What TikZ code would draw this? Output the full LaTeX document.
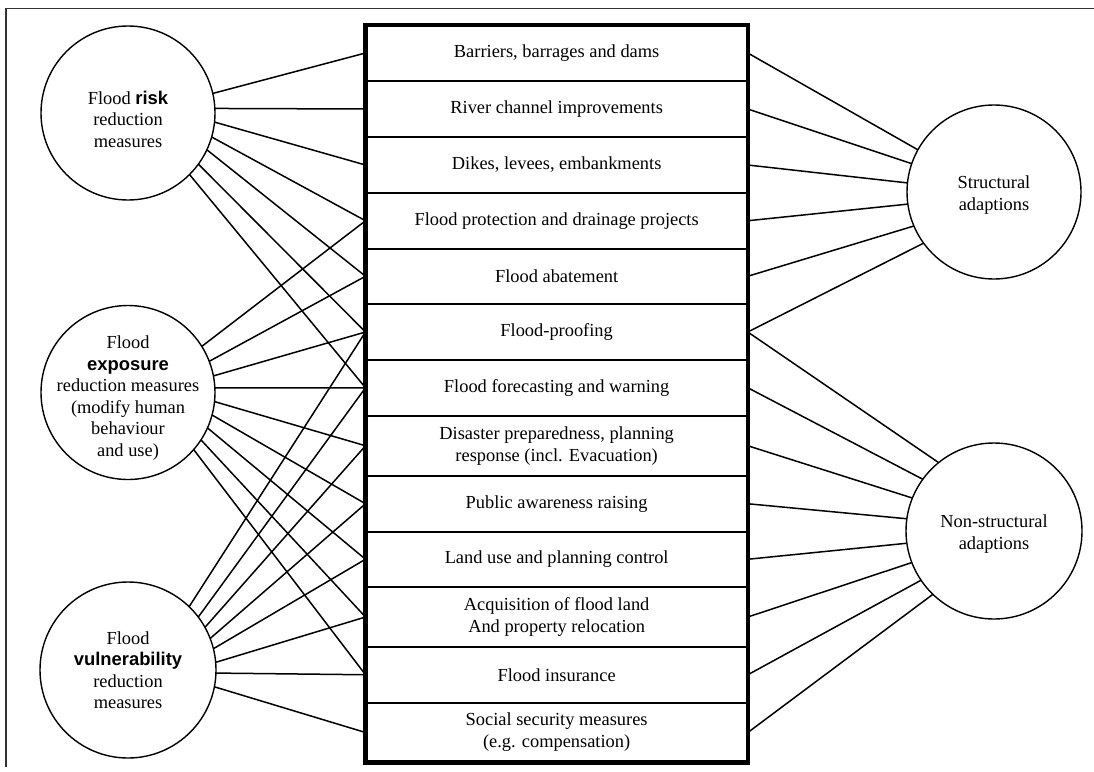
\documentclass[tikz,border=0pt]{standalone}
\usepackage{fontspec}
\setmainfont{Liberation Serif}
\setsansfont{Liberation Sans}
\begin{document}
\begin{tikzpicture}[x=1pt,y=-1pt,
  bubble/.style={circle, draw, line width=1.4pt, minimum size=174pt, inner sep=0pt, outer sep=0pt},
  ctext/.style={align=center, font=\fontsize{18.4}{21.5}\selectfont, inner sep=0pt},
  rowbox/.style={rectangle, draw, line width=2pt, minimum width=382.3pt, inner sep=0pt, outer sep=0pt, align=center, font=\fontsize{18.4}{22}\selectfont},
  link/.style={line width=1.5pt}]
\path[use as bounding box, fill=white] (0,0) rectangle (1094,771);
\draw[line width=1.2pt, black!80] (6,767) -- (6,8.5) -- (1094,8.5);

% circles
\node[bubble] (risk) at (128,113) {};
\node[bubble] (expo) at (128,392.5) {};
\node[bubble, minimum size=176pt] (vuln) at (128,670) {};
\node[bubble] (struct) at (994,192) {};
\node[bubble, minimum size=176pt] (nonstruct) at (994,531) {};

\node[ctext] (risktxt) at (128,119) {Flood \textsf{\bfseries risk}\\reduction\\measures};
\node[ctext] (expotxt) at (128,398) {Flood\\\textsf{\bfseries exposure}\\reduction measures\\(modify human\\behaviour\\and use)};
\node[ctext] (vulntxt) at (128,670) {Flood\\\textsf{\bfseries vulnerability}\\reduction\\measures};
\node[ctext] (structtxt) at (994,195) {Structural\\adaptions};
\node[ctext] (nonstructtxt) at (994,534) {Non-structural\\adaptions};

% rows
\node[rowbox, minimum height=56pt]   (r1)  at (556.65,53)     {Barriers, barrages and dams};
\node[rowbox, minimum height=56pt]   (r2)  at (556.65,109)    {River channel improvements};
\node[rowbox, minimum height=56pt]   (r3)  at (556.65,165)    {Dikes, levees, embankments};
\node[rowbox, minimum height=55.5pt] (r4)  at (556.65,220.75) {Flood protection and drainage projects};
\node[rowbox, minimum height=55.5pt] (r5)  at (556.65,276.25) {Flood abatement};
\node[rowbox, minimum height=56pt]   (r6)  at (556.65,332)    {Flood-proofing};
\node[rowbox, minimum height=55.5pt] (r7)  at (556.65,387.75) {Flood forecasting and warning};
\node[rowbox, minimum height=60.5pt] (r8)  at (556.65,445.75) {Disaster preparedness, planning\\response (incl. Evacuation)};
\node[rowbox, minimum height=55.5pt] (r9)  at (556.65,503.75) {Public awareness raising};
\node[rowbox, minimum height=55.5pt] (r10) at (556.65,559.25) {Land use and planning control};
\node[rowbox, minimum height=60pt]   (r11) at (556.65,617)    {Acquisition of flood land\\And property relocation};
\node[rowbox, minimum height=55.5pt] (r12) at (556.65,674.75) {Flood insurance};
\node[rowbox, minimum height=60pt]   (r13) at (556.65,732.5)  {Social security measures\\(e.g. compensation)};
\draw[line width=4.5pt] (r1.north west) rectangle (r13.south east);

% connectors
\foreach \a/\r in {13.5/1, 3.3/2, -6/3, -16/4, -25.4/5, -36/6, -45/7}
  \draw[link] (risk.\a) -- (r\r.west);
\foreach \a/\r in {32/4, 21/5, 11.5/6, 3.3/7, -6/8, -15/9, -24/10, -33/11, -41/12}
  \draw[link] (expo.\a) -- (r\r.west);
\foreach \a/\r in {46/6, 37/7, 29/8, 21/9, 14/10, 5.4/11, -2/12, -11/13}
  \draw[link] (vuln.\a) -- (r\r.west);
\foreach \a/\r in {151/1, 161/2, 174.5/3, 188/4, 203/5, 216/6}
  \draw[link] (r\r.east) -- (struct.\a);
\foreach \a/\r in {129.4/6, 144/7, 158/8, 172/9, 188/10, 201/11, 214/12, 226.5/13}
  \draw[link] (r\r.east) -- (nonstruct.\a);
\end{tikzpicture}
\end{document}
